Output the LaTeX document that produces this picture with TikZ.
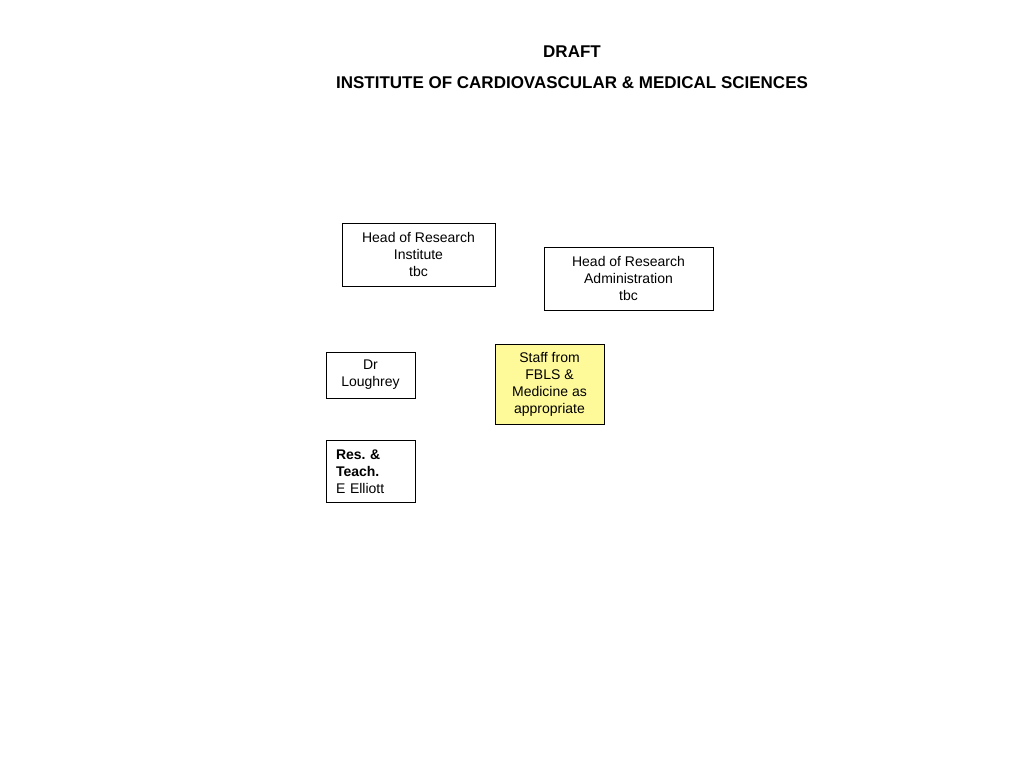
\documentclass[tikz,border=0pt]{standalone}
\usepackage{fontspec}
\setmainfont{Liberation Sans}
\usetikzlibrary{positioning}
\frenchspacing

\begin{document}
\begin{tikzpicture}[
  x=1pt, y=-1pt,
  box/.style={draw,line width=0.8pt,inner sep=2pt,align=center,
              font=\fontsize{14}{17}\selectfont},
  note/.style={box,fill=yellow!40},
  title/.style={font=\fontsize{17}{20}\selectfont\bfseries},
]
\useasboundingbox (0,0) rectangle (1024,768);

% heading
\node[title] (draft) at (572,52) {DRAFT};
\node[title] (inst)  at (572,83) {INSTITUTE OF CARDIOVASCULAR \& MEDICAL SCIENCES};

% top row
\node[box, minimum width=153pt, minimum height=63pt] (hri) at (418.5,254.5)
  {Head of Research\\Institute\\tbc};
\node[box, minimum width=169pt, minimum height=63pt] (hra) at (628.5,278.5)
  {Head of Research\\Administration\\tbc};

% staff
\node[box, minimum width=89pt, minimum height=46pt] (lough) at (370.5,375)
  {Dr\\Loughrey};
\node[note, minimum width=109pt, minimum height=80pt] (staff) at (549.5,384)
  {Staff from\\FBLS \&\\Medicine as\\appropriate};
\node[box, align=left, inner xsep=10pt, text width=69pt, minimum height=62pt] (rt) at (370.5,471.5)
  {\textbf{Res. \&}\\\textbf{Teach.}\\E Elliott};

\end{tikzpicture}
\end{document}
